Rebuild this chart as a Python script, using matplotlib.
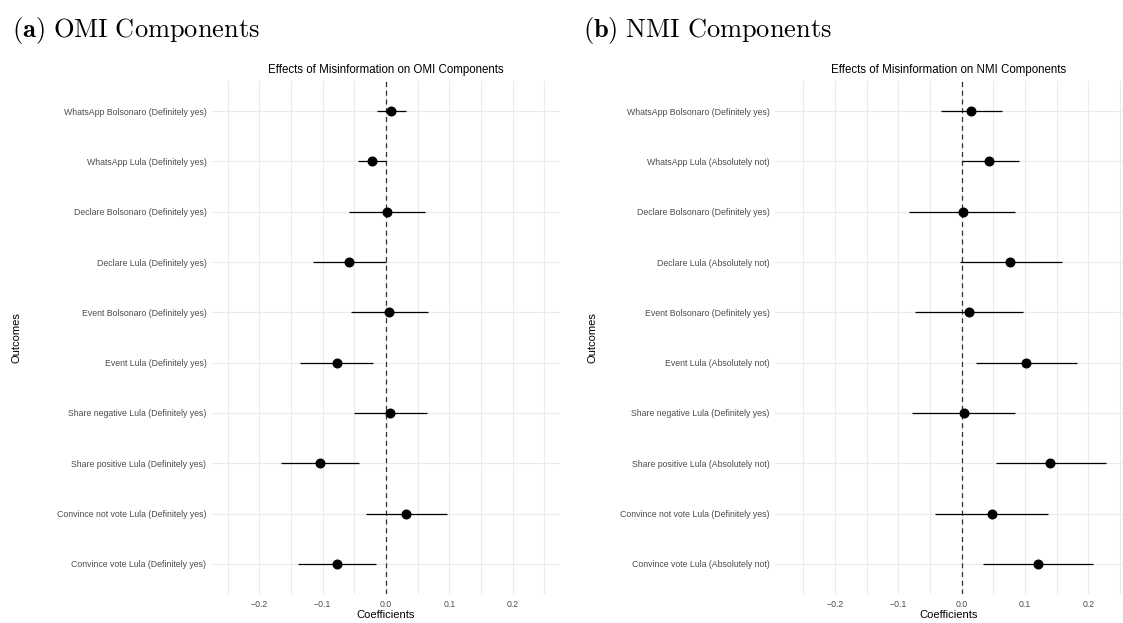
import numpy as np
import matplotlib
matplotlib.use("Agg")
import matplotlib.pyplot as plt

plt.rcParams['font.family'] = ['Liberation Sans', 'DejaVu Sans']
plt.rcParams['mathtext.fontset'] = 'cm'

# OMI components: point estimates and 95% intervals
omi_labels = ["WhatsApp Bolsonaro (Definitely yes)", "WhatsApp Lula (Definitely yes)",
              "Declare Bolsonaro (Definitely yes)", "Declare Lula (Definitely yes)",
              "Event Bolsonaro (Definitely yes)", "Event Lula (Definitely yes)",
              "Share negative Lula (Definitely yes)", "Share positive Lula (Definitely yes)",
              "Convince not vote Lula (Definitely yes)", "Convince vote Lula (Definitely yes)"]
omi_est = [0.008, -0.022, 0.002, -0.059, 0.005, -0.077, 0.007, -0.105, 0.032, -0.078]
omi_lo = [-0.015, -0.045, -0.058, -0.116, -0.056, -0.136, -0.050, -0.166, -0.031, -0.139]
omi_hi = [0.031, 0.000, 0.062, 0.000, 0.066, -0.020, 0.065, -0.043, 0.097, -0.016]

# NMI components
nmi_labels = ["WhatsApp Bolsonaro (Definitely yes)", "WhatsApp Lula (Absolutely not)",
              "Declare Bolsonaro (Definitely yes)", "Declare Lula (Absolutely not)",
              "Event Bolsonaro (Definitely yes)", "Event Lula (Absolutely not)",
              "Share negative Lula (Definitely yes)", "Share positive Lula (Absolutely not)",
              "Convince not vote Lula (Definitely yes)", "Convince vote Lula (Absolutely not)"]
nmi_est = [0.015, 0.044, 0.002, 0.077, 0.012, 0.102, 0.003, 0.140, 0.048, 0.121]
nmi_lo = [-0.032, 0.000, -0.083, -0.003, -0.074, 0.023, -0.079, 0.054, -0.042, 0.034]
nmi_hi = [0.063, 0.091, 0.085, 0.158, 0.097, 0.183, 0.084, 0.228, 0.137, 0.207]

xticks = [-0.2, -0.1, 0.0, 0.1, 0.2]
minor_ticks = [-0.25, -0.15, -0.05, 0.05, 0.15, 0.25]

W, H = 1123, 623
fig = plt.figure(figsize=(W / 100, H / 100), dpi=100)


def coef_panel(rect, labels, est, lo, hi, title, xlim, ylab_x):
    ax = fig.add_axes(rect)
    y = np.arange(len(labels))
    ax.hlines(y, lo, hi, color='black', lw=0.9, zorder=3)
    ax.plot(est, y, 'o', color='black', ms=6.2, zorder=4)
    ax.axvline(0, color='#333333', lw=0.9, ls=(0, (4, 3)), zorder=2)
    ax.set_yticks(y)
    ax.set_yticklabels(labels)
    ax.set_ylim(len(labels) - 1 + 0.6, -0.6)
    ax.set_xlim(*xlim)
    ax.set_xticks(xticks)
    ax.set_xticklabels(['\u22120.2', '\u22120.1', '0.0', '0.1', '0.2'])
    ax.set_xticks(minor_ticks, minor=True)
    ax.grid(True, which='major', color='#ebebeb', lw=0.8)
    ax.grid(True, which='minor', axis='x', color='#ebebeb', lw=0.8)
    ax.set_axisbelow(True)
    for s in ax.spines.values():
        s.set_visible(False)
    ax.tick_params(which='both', length=0, labelsize=6.3, labelcolor='#4d4d4d', pad=4)
    ax.set_title(title, fontsize=8.3, pad=6)
    ax.set_xlabel('Coefficients', fontsize=8, labelpad=1)
    ax.set_ylabel('Outcomes', fontsize=8)
    ax.yaxis.set_label_coords(ylab_x, 0.5)
    return ax


top, bot = 81, 594
coef_panel([212 / W, 1 - bot / H, 348 / W, (bot - top) / H], omi_labels, omi_est, omi_lo, omi_hi,
           'Effects of Misinformation on OMI Components', (-0.275, 0.275), (22 - 212) / 348)
coef_panel([775 / W, 1 - bot / H, 348 / W, (bot - top) / H], nmi_labels, nmi_est, nmi_lo, nmi_hi,
           'Effects of Misinformation on NMI Components', (-0.295, 0.255), (597 - 775) / 348)

fig.text(12 / W, 1 - 30 / H, r'$\mathbf{(a)}\ \mathrm{OMI\ Components}$', fontsize=19, va='center')
fig.text(583 / W, 1 - 30 / H, r'$\mathbf{(b)}\ \mathrm{NMI\ Components}$', fontsize=19, va='center')

fig.savefig('out.png', dpi=100)
